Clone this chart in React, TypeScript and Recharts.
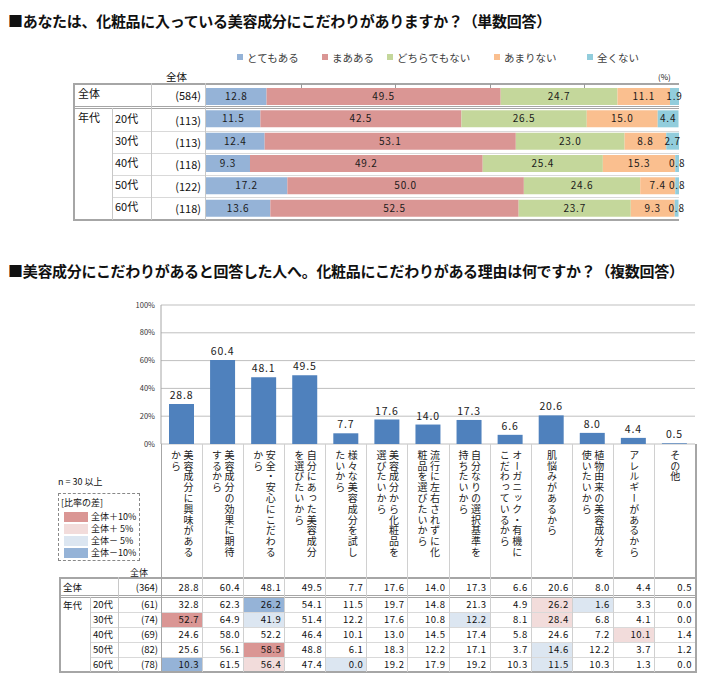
import React from "react";
import { BarChart, Bar, XAxis, YAxis, CartesianGrid, LabelList } from "recharts";

const FONT = '"Noto Sans CJK JP", "Noto Sans", sans-serif';

// Q1: こだわりの有無 (単数回答)
const ageRows = ["全体", "20代", "30代", "40代", "50代", "60代"];
const ageBase = [584, 113, 113, 118, 122, 118];
const totemoAru = [12.8, 11.5, 12.4, 9.3, 17.2, 13.6];
const maaAru = [49.5, 42.5, 53.1, 49.2, 50.0, 52.5];
const dochiraDemo = [24.7, 26.5, 23.0, 25.4, 24.6, 23.7];
const amariNai = [11.1, 15.0, 8.8, 15.3, 7.4, 9.3];
const mattakuNai = [1.9, 4.4, 2.7, 0.8, 0.8, 0.8];
const answerNames = ["とてもある", "まあある", "どちらでもない", "あまりない", "全くない"];
const answerColors = ["#95B3D7", "#DA9694", "#C4D79B", "#FABF8F", "#92CDDC"];
const answerSeries = [totemoAru, maaAru, dochiraDemo, amariNai, mattakuNai];

// Q2: こだわりがある理由 (複数回答)
const reasonLabels = [
  "美容成分に興味があるから",
  "美容成分の効果に期待するから",
  "安全・安心にこだわるから",
  "自分にあった美容成分を選びたいから",
  "様々な美容成分を試したいから",
  "美容成分から化粧品を選びたいから",
  "流行に左右されずに化粧品を選びたいから",
  "自分なりの選択基準を持ちたいから",
  "オーガニック・有機にこだわっているから",
  "肌悩みがあるから",
  "植物由来の美容成分を使いたいから",
  "アレルギーがあるから",
  "その他",
];
const reasonTotal = [28.8, 60.4, 48.1, 49.5, 7.7, 17.6, 14.0, 17.3, 6.6, 20.6, 8.0, 4.4, 0.5];
const reason20s = [32.8, 62.3, 26.2, 54.1, 11.5, 19.7, 14.8, 21.3, 4.9, 26.2, 1.6, 3.3, 0.0];
const reason30s = [52.7, 64.9, 41.9, 51.4, 12.2, 17.6, 10.8, 12.2, 8.1, 28.4, 6.8, 4.1, 0.0];
const reason40s = [24.6, 58.0, 52.2, 46.4, 10.1, 13.0, 14.5, 17.4, 5.8, 24.6, 7.2, 10.1, 1.4];
const reason50s = [25.6, 56.1, 58.5, 48.8, 6.1, 18.3, 12.2, 17.1, 3.7, 14.6, 12.2, 3.7, 1.2];
const reason60s = [10.3, 61.5, 56.4, 47.4, 0.0, 19.2, 17.9, 19.2, 10.3, 11.5, 10.3, 1.3, 0.0];
const reasonAges = ["20代", "30代", "40代", "50代", "60代"];
const reasonAgeRows = [reason20s, reason30s, reason40s, reason50s, reason60s];
const reasonBaseTotal = 364;
const reasonBase = [61, 74, 69, 82, 78];
const yTicks = [0, 20, 40, 60, 80, 100];

const diffNames = ["全体＋10%", "全体＋ 5%", "全体－ 5%", "全体－10%"];
const diffColors = ["#DA9694", "#F2DCDB", "#DCE6F1", "#95B3D7"];

const fmt = (v: any) => Number(v).toFixed(1);

const DARK = "#A6A6A6";
const LIGHT = "#C8C8C8";

function HLine({ x1, x2, y, w = 1, c = LIGHT }: any) {
  return <div style={{ position: "absolute", left: x1, top: y, width: x2 - x1, height: w, background: c }} />;
}
function VLine({ x, y1, y2, w = 1, c = LIGHT }: any) {
  return <div style={{ position: "absolute", left: x, top: y1, width: w, height: y2 - y1, background: c }} />;
}
function Txt({ x, y, w, h, align = "left", size = 10, children, style }: any) {
  return (
    <div
      style={{
        position: "absolute",
        left: x,
        top: y,
        width: w,
        height: h,
        lineHeight: h + "px",
        fontSize: size,
        textAlign: align,
        whiteSpace: "nowrap",
        ...style,
      }}
    >
      {children}
    </div>
  );
}

function diffColor(v: number, base: number) {
  const d = v - base;
  if (d >= 10) return diffColors[0];
  if (d >= 5) return diffColors[1];
  if (d <= -10) return diffColors[3];
  if (d <= -5) return diffColors[2];
  return undefined;
}

// 縦書きラベルは10文字ごとに折り返す
function wrapVertical(s: string) {
  const chars = Array.from(s);
  const out: string[] = [];
  for (let i = 0; i < chars.length; i += 10) out.push(chars.slice(i, i + 10).join(""));
  return out.join("\n");
}

function TopChart() {
  const data = ageRows.map((name, i) => {
    const row: any = { name };
    answerSeries.forEach((s, k) => (row["a" + k] = s[i]));
    return row;
  });
  const rowLines = [131, 153, 175, 197];
  const rowTops = [84, 109, 131, 153, 175, 197];
  const rowH = [23, 22, 22, 22, 22, 23];
  return (
    <>
      {/* legend */}
      {answerNames.map((n, k) => (
        <div
          key={n}
          style={{
            position: "absolute",
            left: [237, 322, 387, 494, 587][k],
            top: 50,
            height: 14,
            display: "flex",
            alignItems: "center",
            fontSize: 10.5,
            color: "#404040",
          }}
        >
          <span style={{ width: 6, height: 6, background: answerColors[k], marginRight: 4, display: "inline-block" }} />
          {n}
        </div>
      ))}
      <Txt x={166} y={70} w={30} h={14} size={10.5}>全体</Txt>
      <Txt x={658} y={71} w={20} h={12} size={8}>(%)</Txt>

      {/* table frame */}
      <HLine x1={74} x2={679} y={83} w={2} c={DARK} />
      <HLine x1={74} x2={679} y={106} c={DARK} />
      <HLine x1={74} x2={679} y={108} c={DARK} />
      {rowLines.map((y) => (
        <HLine key={y} x1={112} x2={679} y={y} c="#D9D9D9" />
      ))}
      <HLine x1={74} x2={679} y={219} w={2} c={DARK} />
      <VLine x={73} y1={83} y2={221} w={2} c={DARK} />
      <VLine x={112} y1={108} y2={220} c={LIGHT} />
      <VLine x={151} y1={83} y2={220} c={LIGHT} />
      <VLine x={205} y1={83} y2={220} c={LIGHT} />

      <Txt x={78} y={86} w={40} h={14} size={11}>全体</Txt>
      <Txt x={78} y={110} w={40} h={14} size={11}>年代</Txt>
      {ageRows.slice(1).map((r, i) => (
        <Txt key={r} x={115} y={rowTops[i + 1] + 2} w={36} h={14} size={11}>
          {r}
        </Txt>
      ))}
      {ageBase.map((n, i) => (
        <Txt key={i} x={151} y={rowTops[i]} w={50} h={rowH[i]} size={11} align="right">
          ({n})
        </Txt>
      ))}

      <div style={{ position: "absolute", left: 206, top: 85 }}>
        <BarChart
          width={495}
          height={134}
          layout="vertical"
          data={data}
          margin={{ top: 0, right: 22, bottom: 0, left: 0 }}
          barCategoryGap={0}
          style={{ overflow: "visible" }}
        >
          <XAxis type="number" domain={[0, 100]} hide />
          <YAxis type="category" dataKey="name" hide />
          {answerNames.map((n, k) => (
            <Bar
              key={n}
              dataKey={"a" + k}
              name={n}
              stackId="a"
              fill={answerColors[k]}
              barSize={17}
              isAnimationActive={false}
            >
              <LabelList
                dataKey={"a" + k}
                position="center"
                formatter={fmt}
                fill="#1a1a1a"
                fontSize={10}
                fontFamily={FONT}
                style={{ letterSpacing: 0.8 }}
              />
            </Bar>
          ))}
        </BarChart>
      </div>
      {[1, 2, 3, 4].map((k) => (
        <VLine key={k} x={206 + (473 * k) / 5} y1={84} y2={88} c="#999" />
      ))}
    </>
  );
}

function ReasonChart() {
  const data = reasonLabels.map((name, i) => ({ name, value: reasonTotal[i] }));
  const left = 161;
  const right = 695;
  const colW = (right - left) / reasonLabels.length;
  const rowTops = [597, 612, 627, 642, 657];
  return (
    <>
      <div style={{ position: "absolute", left: 135, top: 295 }}>
        <BarChart width={560} height={155} data={data} margin={{ top: 10, right: 0, bottom: 6, left: 0 }}>
          <CartesianGrid vertical={false} stroke="#BFBFBF" />
          <XAxis dataKey="name" hide />
          <YAxis
            domain={[0, 100]}
            ticks={yTicks}
            width={26}
            tickFormatter={(v) => v + "%"}
            tick={{ fontSize: 7.5, fill: "#333", fontFamily: FONT }}
            tickLine={false}
            tickSize={4}
            tickMargin={2}
            axisLine={{ stroke: "#A6A6A6" }}
          />
          <Bar dataKey="value" fill="#4F81BD" barSize={25} isAnimationActive={false}>
            <LabelList
              dataKey="value"
              position="top"
              offset={5}
              formatter={fmt}
              fill="#1a1a1a"
              fontSize={10.5}
              fontFamily={FONT}
              style={{ letterSpacing: 0.8 }}
            />
          </Bar>
        </BarChart>
      </div>

      {/* category label cells */}
      {reasonLabels.map((lab, i) => (
        <div
          key={lab}
          style={{
            position: "absolute",
            left: left + i * colW,
            top: 445,
            width: colW,
            height: 133,
            display: "flex",
            justifyContent: "center",
            alignItems: "flex-start",
            paddingTop: 5,
            boxSizing: "border-box",
          }}
        >
          <div
            style={{
              writingMode: "vertical-rl",
              whiteSpace: "pre",
              fontSize: 10,
              lineHeight: "12.5px",
              letterSpacing: 0.8,
              color: "#222",
            }}
          >
            {wrapVertical(lab)}
          </div>
        </div>
      ))}

      {/* 比率の差 legend */}
      <Txt x={58} y={476} w={80} h={12} size={9}>n = 30 以上</Txt>
      <div
        style={{
          position: "absolute",
          left: 58,
          top: 493,
          width: 82,
          height: 68,
          border: "1px dashed #888",
          boxSizing: "border-box",
        }}
      />
      <Txt x={61} y={497} w={60} h={12} size={9}>[比率の差]</Txt>
      {diffNames.map((n, k) => (
        <React.Fragment key={n}>
          <div
            style={{
              position: "absolute",
              left: 64,
              top: [512, 524, 536, 548][k],
              width: 24,
              height: 10,
              background: diffColors[k],
            }}
          />
          <Txt x={91} y={[511, 523, 535, 547][k]} w={50} h={12} size={9}>
            {n}
          </Txt>
        </React.Fragment>
      ))}

      {/* data table */}
      <Txt x={130} y={568} w={30} h={10} size={9}>全体</Txt>
      {reasonLabels.map((_, i) =>
        reasonAgeRows.map((row, r) => {
          const bg = diffColor(row[i], reasonTotal[i]);
          return bg ? (
            <div
              key={i + "-" + r}
              style={{
                position: "absolute",
                left: left + i * colW + 1,
                top: rowTops[r],
                width: colW - 1,
                height: 15,
                background: bg,
              }}
            />
          ) : null;
        })
      )}
      <HLine x1={60} x2={right} y={577} w={2} c={DARK} />
      <HLine x1={60} x2={right} y={595} c={DARK} />
      <HLine x1={60} x2={right} y={597} c={DARK} />
      {[612, 627, 642, 657].map((y) => (
        <HLine key={y} x1={90} x2={right} y={y} c="#D9D9D9" />
      ))}
      <HLine x1={60} x2={right + 1} y={671} w={2} c={DARK} />
      <VLine x={59} y1={577} y2={673} w={2} c={DARK} />
      <VLine x={90} y1={597} y2={672} c={LIGHT} />
      <VLine x={118} y1={577} y2={672} c={LIGHT} />
      <VLine x={left} y1={444} y2={672} c={DARK} />
      {reasonLabels.slice(1).map((_, i) => (
        <VLine key={i} x={left + (i + 1) * colW} y1={444} y2={672} c="#D0D0D0" />
      ))}
      <VLine x={right} y1={444} y2={673} w={2} c={DARK} />

      <Txt x={63} y={579} w={50} h={16} size={9.5}>全体</Txt>
      <Txt x={63} y={598} w={30} h={14} size={9.5}>年代</Txt>
      <Txt x={118} y={579} w={40} h={16} size={9.5} align="right">
        ({reasonBaseTotal})
      </Txt>
      {reasonAges.map((a, r) => (
        <React.Fragment key={a}>
          <Txt x={93} y={rowTops[r]} w={26} h={15} size={9.5}>
            {a}
          </Txt>
          <Txt x={118} y={rowTops[r]} w={40} h={15} size={9.5} align="right">
            ({reasonBase[r]})
          </Txt>
        </React.Fragment>
      ))}
      {reasonTotal.map((v, i) => (
        <Txt key={i} x={left + i * colW} y={579} w={colW - 3} h={16} size={9.5} align="right" style={{ letterSpacing: 0.5 }}>
          {fmt(v)}
        </Txt>
      ))}
      {reasonAgeRows.map((row, r) =>
        row.map((v, i) => (
          <Txt
            key={r + "-" + i}
            x={left + i * colW}
            y={rowTops[r]}
            w={colW - 3}
            h={15}
            size={9.5}
            align="right"
            style={{ letterSpacing: 0.5 }}
          >
            {fmt(v)}
          </Txt>
        ))
      )}
    </>
  );
}

export default function App() {
  return (
    <div
      style={{
        position: "relative",
        width: 714,
        height: 689,
        background: "#fff",
        fontFamily: FONT,
        color: "#111",
        overflow: "hidden",
      }}
    >
      <style>{`body{margin:0}`}</style>
      <div
        style={{
          position: "absolute",
          left: 8,
          top: 11,
          fontSize: 15,
          fontWeight: 700,
          letterSpacing: -0.3,
          whiteSpace: "nowrap",
          lineHeight: "20px",
        }}
      >
        ■あなたは、化粧品に入っている美容成分にこだわりがありますか？（単数回答）
      </div>
      <TopChart />
      <div
        style={{
          position: "absolute",
          left: 8,
          top: 261,
          fontSize: 15,
          fontWeight: 700,
          letterSpacing: -0.3,
          whiteSpace: "nowrap",
          lineHeight: "20px",
        }}
      >
        ■美容成分にこだわりがあると回答した人へ。化粧品にこだわりがある理由は何ですか？（複数回答）
      </div>
      <ReasonChart />
    </div>
  );
}
